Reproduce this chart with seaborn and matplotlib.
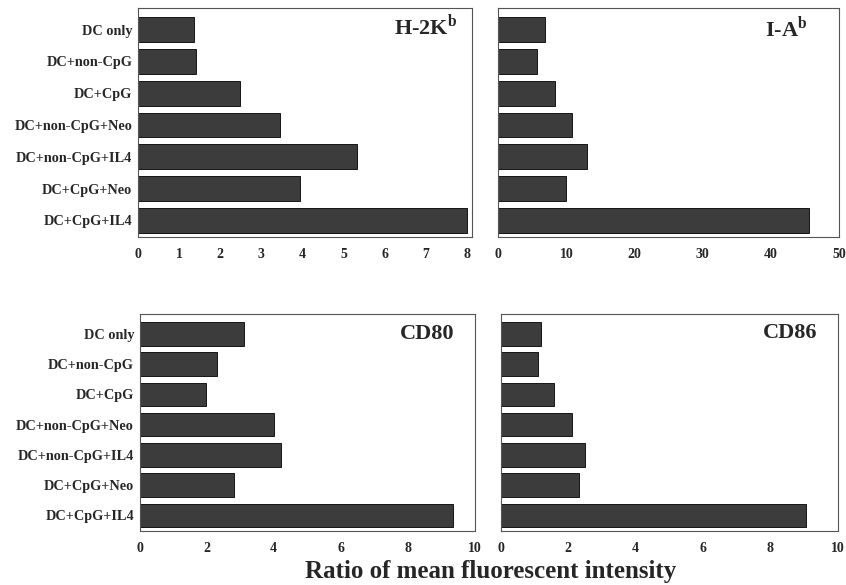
import matplotlib
matplotlib.use("Agg")
import matplotlib.pyplot as plt
import pandas as pd
import seaborn as sns

groups = [
    "DC only",
    "DC+non-CpG",
    "DC+CpG",
    "DC+non-CpG+Neo",
    "DC+non-CpG+IL4",
    "DC+CpG+Neo",
    "DC+CpG+IL4",
]
h2kb = [1.36, 1.40, 2.49, 3.46, 5.33, 3.95, 8.0]
iab = [6.8, 5.7, 8.3, 10.85, 12.95, 10.0, 45.6]
cd80 = [3.13, 2.32, 1.98, 4.0, 4.21, 2.83, 9.36]
cd86 = [1.19, 1.10, 1.58, 2.11, 2.49, 2.32, 9.05]

panel_names = ["H-2K$^{\\mathrm{b}}$", "I-A$^{\\mathrm{b}}$", "CD80", "CD86"]
panel_values = [h2kb, iab, cd80, cd86]
xticks = [list(range(0, 9)), list(range(0, 51, 10)), list(range(0, 11, 2)), list(range(0, 11, 2))]
xlims = [(0, 8.12), (0, 50), (0, 10), (0, 10)]

sns.set_style("white")
plt.rcParams["font.family"] = ["Liberation Serif", "DejaVu Serif"]
plt.rcParams["font.weight"] = "bold"
plt.rcParams["mathtext.fontset"] = "custom"
plt.rcParams["mathtext.rm"] = "Liberation Serif:bold"
plt.rcParams["mathtext.bf"] = "Liberation Serif:bold"

fig = plt.figure(figsize=(8.46, 5.85), dpi=100)
positions = [
    [0.163, 0.595, 0.395, 0.391],
    [0.589, 0.595, 0.403, 0.391],
    [0.165, 0.092, 0.396, 0.372],
    [0.592, 0.092, 0.398, 0.372],
]
label_pos = [(0.955, 0.92), (0.905, 0.91), (0.94, 0.905), (0.94, 0.91)]

for i, (name, vals) in enumerate(zip(panel_names, panel_values)):
    ax = fig.add_axes(positions[i])
    df = pd.DataFrame({"group": groups, "value": vals})
    sns.barplot(data=df, x="value", y="group", orient="h", color="#3c3c3c",
                edgecolor="black", linewidth=0.6, width=0.78, saturation=1, ax=ax)
    ax.set_xlim(*xlims[i])
    ax.set_ylim(6.52, -0.67)
    ax.set_xticks(xticks[i])
    ax.set_xlabel("")
    ax.set_ylabel("")
    ax.tick_params(axis="both", direction="in", length=3, width=0.6, color="#555555",
                   labelsize=10, pad=8)
    for lab in ax.get_xticklabels():
        lab.set_fontweight("bold")
    if i % 2 == 1:
        ax.set_yticklabels([])
    else:
        for lab in ax.get_yticklabels():
            lab.set_fontweight("bold")
            lab.set_fontsize(10.3)
        ax.tick_params(axis="y", pad=4)
    for sp in ax.spines.values():
        sp.set_color("#555555")
        sp.set_linewidth(0.8)
    ax.text(label_pos[i][0], label_pos[i][1], name, transform=ax.transAxes,
            ha="right", va="center", fontsize=16, fontweight="bold")

fig.text(0.58, 0.004, "Ratio of mean fluorescent intensity", ha="center", va="bottom",
         fontsize=18, fontweight="bold")

fig.savefig("out.png", dpi=100)
